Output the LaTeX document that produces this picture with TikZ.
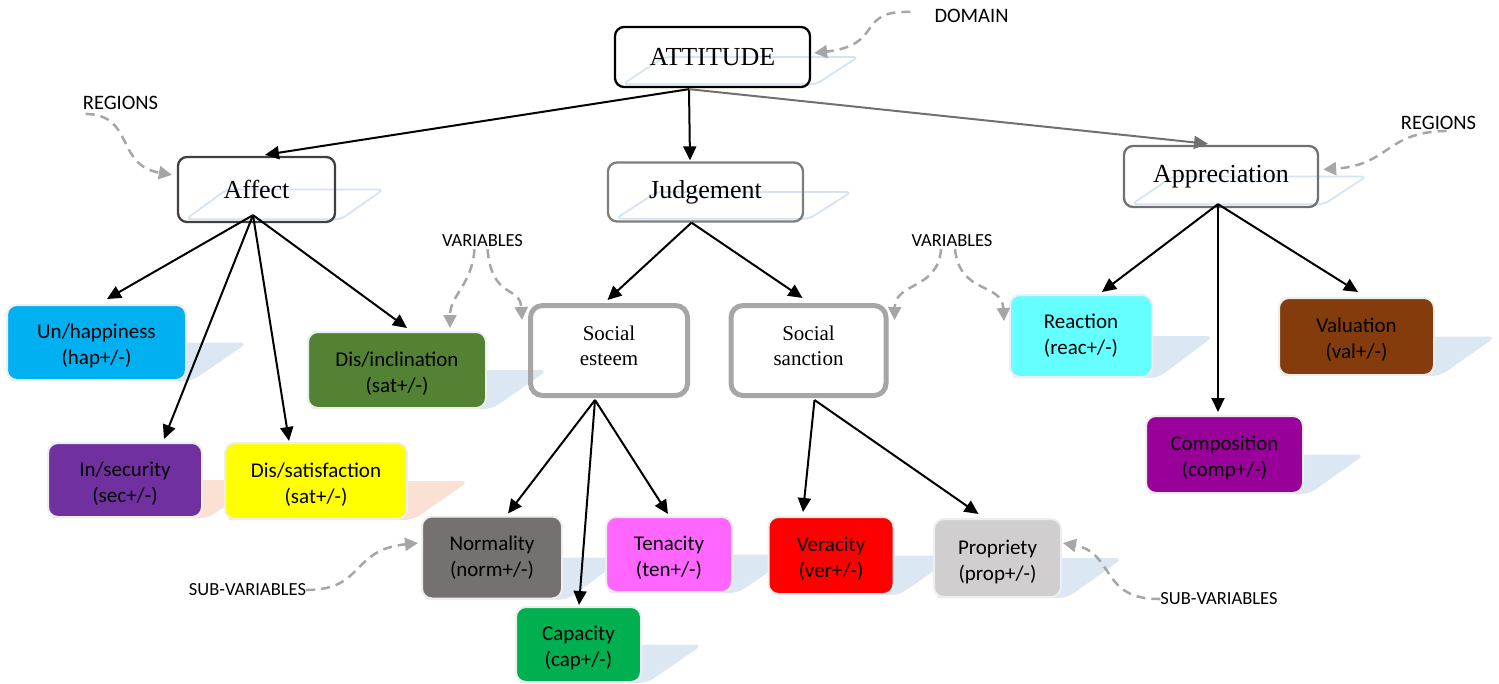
\documentclass[tikz,border=0pt]{standalone}
\usepackage{fontspec}
\setmainfont{Liberation Serif}
\newfontfamily\calfont{Carlito}
\usetikzlibrary{arrows.meta,calc}
\pgfdeclarelayer{bg}
\pgfsetlayers{bg,main}
\newcommand\lstr{\rule{0pt}{21.5pt}}
\definecolor{shblue}{RGB}{220,231,244}
\definecolor{shpeach}{RGB}{250,225,211}
\definecolor{olblue}{RGB}{214,227,243}
\definecolor{dashgray}{RGB}{166,166,166}
\definecolor{socgray}{RGB}{166,166,166}
\definecolor{leafborder}{RGB}{238,238,238}
\definecolor{affgray}{RGB}{64,64,64}
\definecolor{judgray}{RGB}{125,125,125}
\definecolor{appgray}{RGB}{112,112,112}
\definecolor{cHap}{HTML}{00B0F0}
\definecolor{cInc}{HTML}{548235}
\definecolor{cSec}{HTML}{7030A0}
\definecolor{cSat}{HTML}{FFFF00}
\definecolor{cNorm}{HTML}{767171}
\definecolor{cCap}{HTML}{00B050}
\definecolor{cTen}{HTML}{FF66FF}
\definecolor{cVer}{HTML}{FF0000}
\definecolor{cProp}{HTML}{D0CECE}
\definecolor{cReac}{HTML}{66FFFF}
\definecolor{cVal}{HTML}{843C0C}
\definecolor{cComp}{HTML}{990099}
\begin{document}
\begin{tikzpicture}[x=1pt,y=-1pt,
  mainbox/.style={draw, fill=none, rounded corners=9pt, line width=2.3pt, inner sep=0pt, font=\fontsize{26}{30}\selectfont},
  socbox/.style={draw=socgray, rounded corners=12pt, line width=5pt, inner sep=0pt, align=center, minimum width=157pt, minimum height=90pt, font=\fontsize{21}{25}\selectfont, execute at end node={\rule[-10pt]{0pt}{0pt}}},
  leaf/.style={draw=leafborder, line width=2pt, rounded corners=10pt, inner sep=0pt, align=center, text=black, font=\calfont\fontsize{21}{26}\selectfont},
  lbl/.style={inner sep=0pt, font=\calfont\fontsize{20.5}{24}\selectfont},
  lbls/.style={inner sep=0pt, font=\calfont\fontsize{18.5}{22}\selectfont},
  arr/.style={line width=2pt, -{Triangle[length=14pt,width=13pt]}},
  darr/.style={draw=dashgray, line width=2.5pt, dash pattern=on 9pt off 6pt, -{Triangle[length=13pt,width=13pt]}},
  shb/.style={fill=shblue, rounded corners=8pt},
  shp/.style={fill=shpeach, rounded corners=8pt},
  outl/.style={draw=olblue, line width=1.8pt, rounded corners=5pt}
]
\useasboundingbox (0,0) rectangle (1499,683);

% main boxes
\node[mainbox, draw=black, minimum width=195pt, minimum height=60pt] (att) at (712.5,57) {ATTITUDE};
\node[mainbox, draw=affgray, minimum width=157pt, minimum height=65pt] (aff) at (256.5,189.5) {Affect};
\node[mainbox, draw=judgray, minimum width=195pt, minimum height=59pt] (jud) at (705.5,192) {Judgement};
\node[mainbox, draw=appgray, minimum width=194pt, minimum height=61pt] (app) at (1221,176.5) {Appreciation};

% social boxes
\node[socbox] (se) at (609,350.5) {Social\\esteem};
\node[socbox, minimum width=155pt] (ss) at (808.5,350.5) {Social\\sanction};

% leaves
\node[leaf, fill=cHap, minimum width=179pt, minimum height=75pt] (unh) at (96.5,342.5) {\lstr Un/happiness\\(hap+/-)};
\node[leaf, fill=cInc, minimum width=178pt, minimum height=76pt] (dinc) at (397,370) {\lstr Dis/inclination\\(sat+/-)};
\node[leaf, fill=cSec, minimum width=154pt, minimum height=74pt] (ins) at (125,480) {\lstr In/security\\(sec+/-)};
\node[leaf, fill=cSat, minimum width=182pt, minimum height=76pt] (dsat) at (316,481) {\lstr Dis/satisfaction\\(sat+/-)};
\node[leaf, fill=cNorm, minimum width=140pt, minimum height=82pt] (norm) at (492,557.5) {Normality\\(norm+/-)};
\node[leaf, fill=cCap, minimum width=125pt, minimum height=75pt] (cap) at (578.5,644.5) {\lstr Capacity\\(cap+/-)};
\node[leaf, fill=cTen, minimum width=126pt, minimum height=75pt] (ten) at (669,554.5) {\lstr Tenacity\\(ten+/-)};
\node[leaf, fill=cVer, minimum width=125pt, minimum height=77pt] (ver) at (831,555.5) {\lstr Veracity\\(ver+/-)};
\node[leaf, fill=cProp, minimum width=127pt, minimum height=78pt] (prop) at (997.5,558) {\lstr Propriety\\(prop+/-)};
\node[leaf, fill=cReac, minimum width=142pt, minimum height=82pt] (reac) at (1081,336) {Reaction\\(reac+/-)};
\node[leaf, fill=cVal, minimum width=155pt, minimum height=77pt] (val) at (1356.5,336.5) {\lstr Valuation\\(val+/-)};
\node[leaf, fill=cComp, minimum width=157pt, minimum height=77pt] (comp) at (1224.5,454.5) {\lstr Composition\\(comp+/-)};

% labels
\node[lbl] (dom) at (971.5,16) {DOMAIN};
\node[lbl] (regL) at (120.5,103) {REGIONS};
\node[lbl] (regR) at (1438.5,123) {REGIONS};
\node[lbls] (varL) at (482.5,241) {VARIABLES};
\node[lbls] (varR) at (952,241) {VARIABLES};
\node[lbls] (subL) at (247.5,590) {SUB-VARIABLES};
\node[lbls] (subR) at (1219,599) {SUB-VARIABLES};

% shadows and outlines
\begin{pgfonlayer}{bg}
  \foreach \n in {unh,dinc,norm,cap,ten,ver,prop,reac,val,comp}
    \fill[shb] ($(\n.west)+(61,0)$) -- ($(\n.east)+(61,0)$) -- ($(\n.south east)+(5,0)$) -- (\n.south west) -- cycle;
  \foreach \n in {ins,dsat}
    \fill[shp] ($(\n.west)+(61,0)$) -- ($(\n.east)+(61,0)$) -- ($(\n.south east)+(5,0)$) -- (\n.south west) -- cycle;
  \foreach \n in {att,aff,jud,app}
    \draw[outl] ($(\n.west)+(50,0)$) -- ($(\n.east)+(47,0)$) -- ($(\n.south east)+(5,-4)$) -- ($(\n.south west)+(9,-4)$) -- cycle;
\end{pgfonlayer}

% start points
\coordinate (attS) at ($(att.south)+(-23.5,1)$);
\coordinate (affS) at ($(aff.south)+(-3.5,-8)$);
\coordinate (judS) at ($(jud.south)+(-14,0)$);
\coordinate (seS) at ($(se.south)+(-14,2)$);
\coordinate (ssS) at ($(ss.south)+(6,2)$);
\coordinate (appS) at ($(app.south)+(-3,-4)$);

% tree arrows
\draw[arr] (attS) -- ($(aff.north)+(8.5,-1)$);
\draw[arr] (attS) -- ($(jud.north)+(-15.5,-1)$);
\draw[arr, draw=appgray, fill=appgray] (attS) -- ($(app.north)+(-13,-1)$);
\draw[arr] (affS) -- ($(unh.north)+(10.5,-5)$);
\draw[arr] (affS) -- ($(ins.north)+(39,-3)$);
\draw[arr] (affS) -- ($(dsat.north)+(-27,-1)$);
\draw[arr] (affS) -- ($(dinc.north)+(10,-3)$);
\draw[arr] (judS) -- ($(se.north)+(-1.5,-3)$);
\draw[arr] (judS) -- ($(ss.north)+(-6,-5)$);
\draw[arr] (seS) -- ($(norm.north)+(16,-2)$);
\draw[arr] (seS) -- ($(cap.north)+(0.5,-1)$);
\draw[arr] (seS) -- ($(ten.north)+(-1,-2)$);
\draw[arr] (ssS) -- ($(ver.north)+(-28,-4)$);
\draw[arr] (ssS) -- ($(prop.north)+(-19,-4)$);
\draw[arr] (appS) -- ($(reac.north)+(21,-2)$);
\draw[arr] (appS) -- ($(comp.north)+(-6.5,-3)$);
\draw[arr] (appS) -- ($(val.north)+(1.5,-5)$);

% dashed pointers
\coordinate (domS) at ($(dom.west)+(-24,-4)$);
\draw[darr] (domS) .. controls (855,10) and (885,45) .. ($(att.east)+(3,-4)$);
\coordinate (regLS) at ($(regL.south west)+(3,4)$);
\draw[darr] (regLS) .. controls (135,115) and (115,165) .. ($(aff.north west)+(-5,19)$);
\coordinate (regRS) at ($(regR.south)+(8,1)$);
\draw[darr] (regRS) .. controls (1385,132) and (1390,165) .. ($(app.east)+(4,-7)$);
\coordinate (varLa) at ($(varL.south)+(-8,2)$);
\coordinate (varLb) at ($(varL.south)+(5,2)$);
\draw[darr] (varLa) .. controls (472,285) and (450,295) .. ($(dinc.north)+(53,-3)$);
\draw[darr] (varLb) .. controls (492,300) and (520,285) .. ($(se.north west)+(-6,17)$);
\coordinate (varRa) at ($(varR.south)+(-11,2)$);
\coordinate (varRb) at ($(varR.south)+(3,2)$);
\draw[darr] (varRa) .. controls (938,290) and (895,282) .. ($(ss.north east)+(6,17)$);
\draw[darr] (varRb) .. controls (960,295) and (1002,282) .. ($(reac.north west)+(-5,27)$);
\draw[darr] (subL.east) .. controls (365,590) and (350,550) .. ($(norm.west)+(-3,-14.5)$);
\draw[darr] (subR.west) .. controls (1100,600) and (1115,553) .. ($(prop.east)+(1,-15)$);
\end{tikzpicture}
\end{document}
